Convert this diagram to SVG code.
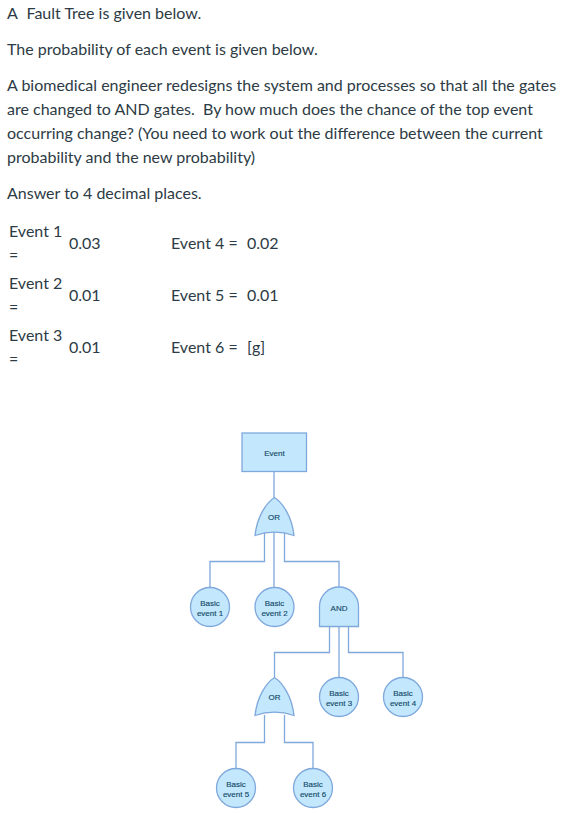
<svg xmlns="http://www.w3.org/2000/svg" width="574" height="813" viewBox="0 0 574 813">
<style>
text{font-family:Lato,"Liberation Sans",sans-serif}
.t{font-size:16px;fill:#2d3b45}
.n{font-family:"Liberation Sans",Arial,sans-serif;font-size:8px;fill:#154a68;stroke:#154a68;stroke-width:.15;text-anchor:middle}
.s{fill:#c3e8fd;stroke:#7fa8dc;stroke-width:1.3}
.c{fill:none;stroke:#7fa8dc;stroke-width:1.3}
</style>
<rect width="574" height="813" fill="#fff"/>
<g id="question">
<text class="t" x="7" y="19">A</text><text class="t" x="26.500" y="19">Fault Tree is given below.</text>
<text class="t" x="7" y="55">The probability of each event is given below.</text>
<text class="t" x="7" y="91">A biomedical engineer redesigns the system and processes so that all the gates</text>
<text class="t" x="7" y="115">are changed to AND gates.&#160; By how much does the chance of the top event</text>
<text class="t" x="7" y="139">occurring change? (You need to work out the difference between the current</text>
<text class="t" x="7" y="163">probability and the new probability)</text>
<text class="t" x="7" y="199">Answer to 4 decimal places.</text>
<text class="t" x="9" y="237">Event 1</text><text class="t" x="9" y="261">=</text><text class="t" x="69" y="249">0.03</text>
<text class="t" x="9" y="289">Event 2</text><text class="t" x="9" y="313">=</text><text class="t" x="69" y="301">0.01</text>
<text class="t" x="9" y="341">Event 3</text><text class="t" x="9" y="365">=</text><text class="t" x="69" y="353">0.01</text>
<text class="t" x="171" y="249">Event 4 =</text><text class="t" x="247" y="249">0.02</text>
<text class="t" x="171" y="301">Event 5 =</text><text class="t" x="247" y="301">0.01</text>
<text class="t" x="171" y="353">Event 6 =</text><text class="t" x="247" y="353">[g]</text>
</g>
<g id="connectors">
<path class="c" d="M274 472V498"/>
<path class="c" d="M264.500 533V561.500H210V587"/>
<path class="c" d="M274 532V587"/>
<path class="c" d="M284.500 533V561.500H339V587"/>
<path class="c" d="M329.500 627V652.500H274.500V677"/>
<path class="c" d="M339 627V678"/>
<path class="c" d="M348.500 627V652.500H403V678"/>
<path class="c" d="M264.500 715V742.500H236V768"/>
<path class="c" d="M284.500 715V742.500H313V768"/>
</g>
<g id="event"><rect class="s" x="242" y="433" width="64.500" height="38.500"/><text class="n" x="274.500" y="456">Event</text></g>
<g id="or1"><path class="s" d="M274.500 497.500C283 503 292 517 294 535.500C281 531 268 531 255 535.500C257 517 266 503 274.500 497.500Z"/><text class="n" x="274" y="520">OR</text></g>
<g id="basic1"><circle class="s" cx="210" cy="607" r="19.500"/><text class="n" x="210" y="605.500">Basic</text><text class="n" x="210" y="615.500">event 1</text></g>
<g id="basic2"><circle class="s" cx="274.500" cy="607" r="19.500"/><text class="n" x="274.500" y="605.500">Basic</text><text class="n" x="274.500" y="615.500">event 2</text></g>
<g id="and"><path class="s" d="M319.500 626.500V606.500A19.500 19.500 0 0 1 358.500 606.500V626.500Z"/><text class="n" x="339" y="610.500">AND</text></g>
<g id="or2"><path class="s" d="M274.500 677.500C283 683 292 697 294 715.500C281 711 268 711 255 715.500C257 697 266 683 274.500 677.500Z"/><text class="n" x="274.500" y="700">OR</text></g>
<g id="basic3"><circle class="s" cx="339" cy="697" r="19.500"/><text class="n" x="339" y="696">Basic</text><text class="n" x="339" y="706">event 3</text></g>
<g id="basic4"><circle class="s" cx="403" cy="697" r="19.500"/><text class="n" x="403" y="696">Basic</text><text class="n" x="403" y="706">event 4</text></g>
<g id="basic5"><circle class="s" cx="236" cy="788" r="19.500"/><text class="n" x="236" y="786.500">Basic</text><text class="n" x="236" y="796.500">event 5</text></g>
<g id="basic6"><circle class="s" cx="313" cy="788" r="19.500"/><text class="n" x="313" y="786.500">Basic</text><text class="n" x="313" y="796.500">event 6</text></g>
</svg>
